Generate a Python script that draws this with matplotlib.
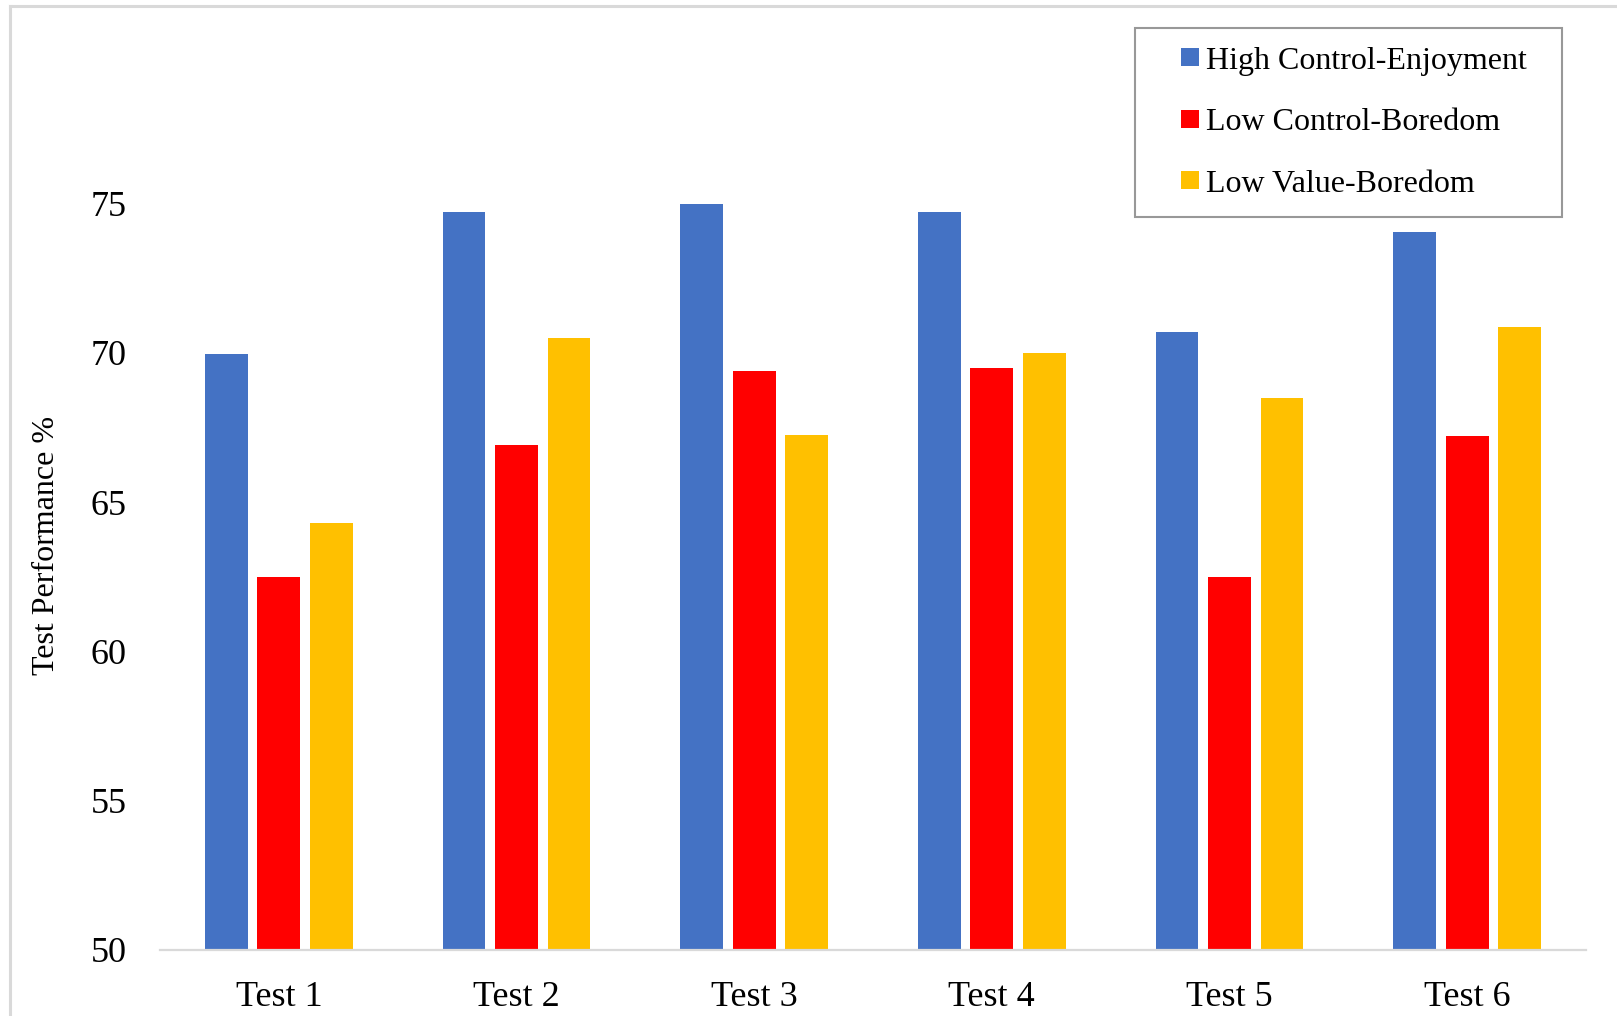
import numpy as np
import matplotlib
matplotlib.use("Agg")
import matplotlib.pyplot as plt
from matplotlib.lines import Line2D
from matplotlib.patches import Rectangle
from matplotlib.legend_handler import HandlerPatch

plt.rcParams['font.family'] = ['Liberation Serif', 'DejaVu Serif']

tests = ['Test 1', 'Test 2', 'Test 3', 'Test 4', 'Test 5', 'Test 6']
high_control_enjoyment = [69.95, 74.7, 75.0, 74.7, 70.7, 74.05]
low_control_boredom = [62.5, 66.9, 69.4, 69.5, 62.5, 67.2]
low_value_boredom = [64.3, 70.5, 67.25, 70.0, 68.5, 70.85]

series = [
    ('High Control-Enjoyment', high_control_enjoyment, '#4472C4'),
    ('Low Control-Boredom', low_control_boredom, '#FF0000'),
    ('Low Value-Boredom', low_value_boredom, '#FFC000'),
]

W, H = 1617, 1016
fig = plt.figure(figsize=(W / 100, H / 100), dpi=100)

# axes placed in pixel terms: baseline 50 at y=950, 80 at y~54
ax = fig.add_axes([160 / W, (H - 950) / H, (1586 - 160) / W, 895.8 / H])

x = np.arange(len(tests))
offset = 0.221
width = 0.18
handles = []
for i, (label, vals, color) in enumerate(series):
    bars = ax.bar(x + (i - 1) * offset, np.array(vals) - 50, width, bottom=50,
                  color=color, label=label, zorder=2)
    handles.append(bars.patches[0])

ax.set_xlim(-0.5, len(tests) - 0.5)
ax.set_ylim(50, 80)
ax.set_yticks([50, 55, 60, 65, 70, 75])
ax.set_xticks(x)
ax.set_xticklabels(tests)

for side in ['top', 'right', 'left']:
    ax.spines[side].set_visible(False)
ax.spines['bottom'].set_color('#d9d9d9')
ax.spines['bottom'].set_linewidth(1.6)
ax.spines['bottom'].set_zorder(3)

ax.tick_params(axis='y', length=0, pad=24, labelsize=26)
ax.tick_params(axis='x', length=0, pad=22, labelsize=26)

fig.text(47 / W, 1 - 545 / H, 'Test Performance %', rotation=90,
         ha='center', va='center', fontsize=23)


def square_handle(legend, orig_handle, xdescent, ydescent, width, height, fontsize):
    # small square pushed to the right end of the handle box
    s = 13
    return Rectangle((-xdescent + width - s, -ydescent + (height - s) / 2), s, s)


leg = ax.legend(handles, [s[0] for s in series],
                loc='upper left', mode='expand',
                bbox_to_anchor=(1135 / W, 1 - 214 / H, 427 / W, 186 / H),
                bbox_transform=fig.transFigure, fontsize=23,
                frameon=True, fancybox=False, borderpad=0.58,
                labelspacing=1.02, handlelength=1.43, handleheight=0.6,
                handletextpad=0.22, borderaxespad=0,
                handler_map={Rectangle: HandlerPatch(patch_func=square_handle)})
leg.get_frame().set_edgecolor('#7f7f7f')
leg.get_frame().set_linewidth(1.5)

# light grey outer frame around the chart area
fig.add_artist(Line2D([10 / W, 10 / W], [0, 1 - 6 / H], color='#d9d9d9',
                      lw=2.2, transform=fig.transFigure))
fig.add_artist(Line2D([10 / W, 1], [1 - 6 / H, 1 - 6 / H], color='#d9d9d9',
                      lw=2.2, transform=fig.transFigure))

fig.savefig('out.png', dpi=100)
